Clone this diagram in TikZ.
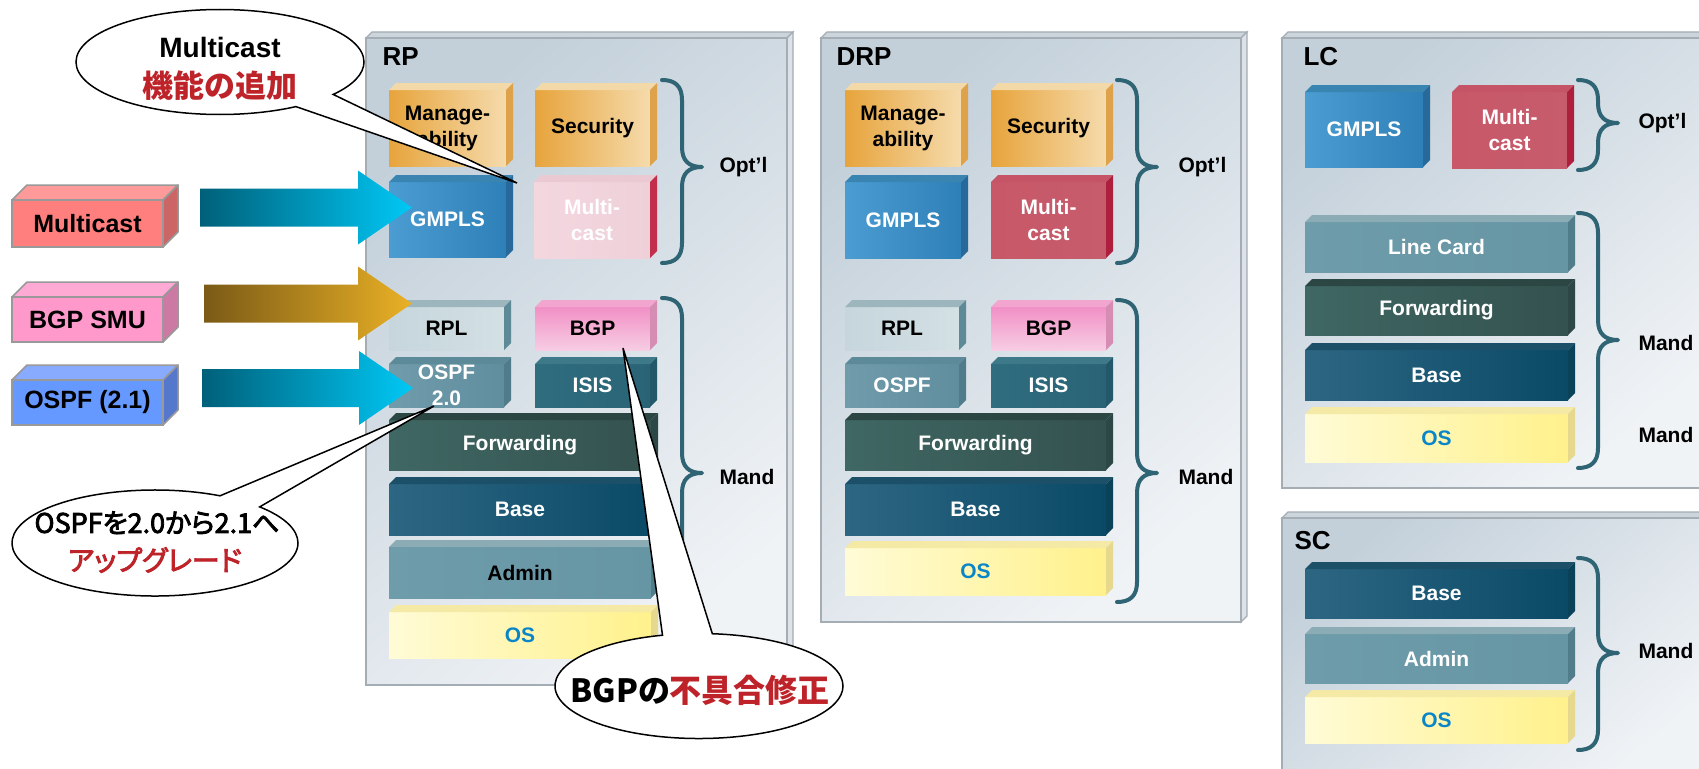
\documentclass[tikz,border=0pt]{standalone}
\usepackage{fontspec}
\setmainfont{Liberation Sans}
\newfontfamily\jp{Noto Sans CJK JP}[RawFeature=+palt]
\newfontfamily\jpm{Noto Sans CJK JP}[RawFeature=+palt, FakeBold=3]
\usetikzlibrary{shapes.callouts,calc}
% block colours
\definecolor{korgL}{HTML}{E7A43C}\definecolor{korgR}{HTML}{F5DBAC}\definecolor{korg-top}{HTML}{F3D9A8}\definecolor{korg-side}{HTML}{DDA24A}
\definecolor{kblueL}{HTML}{4B9CD1}\definecolor{kblueR}{HTML}{2E80B8}\definecolor{kblue-top}{HTML}{3A84B2}\definecolor{kblue-side}{HTML}{27699A}
\definecolor{kredL}{HTML}{C85868}\definecolor{kredR}{HTML}{C65C6C}\definecolor{kred-top}{HTML}{C45466}\definecolor{kred-side}{HTML}{AE1F3D}
\definecolor{kpaleL}{HTML}{F3D7DF}\definecolor{kpaleR}{HTML}{EFD0D9}\definecolor{kpale-top}{HTML}{EBC9D2}\definecolor{kpale-side}{HTML}{C22F4D}
\definecolor{krplL}{HTML}{C6D6DC}\definecolor{krplR}{HTML}{D3E0E4}\definecolor{krpl-top}{HTML}{9DB5BD}\definecolor{krpl-side}{HTML}{5E8A97}
\definecolor{kpinkL}{HTML}{F190C6}\definecolor{kpinkR}{HTML}{F7CDE3}\definecolor{kpink-top}{HTML}{F2A6CF}\definecolor{kpink-side}{HTML}{D58DB4}
\definecolor{kospfL}{HTML}{6F9BAB}\definecolor{kospfR}{HTML}{618E9E}\definecolor{kospf-top}{HTML}{5D8A99}\definecolor{kospf-side}{HTML}{4F7B8A}
\definecolor{kisisL}{HTML}{2F6D7F}\definecolor{kisisR}{HTML}{2A6376}\definecolor{kisis-top}{HTML}{3E7989}\definecolor{kisis-side}{HTML}{225869}
\definecolor{kfwdL}{HTML}{3F6763}\definecolor{kfwdR}{HTML}{34524F}\definecolor{kfwd-top}{HTML}{2C4644}\definecolor{kfwd-side}{HTML}{2C4745}
\definecolor{kbaseL}{HTML}{2D6682}\definecolor{kbaseR}{HTML}{0A4A67}\definecolor{kbase-top}{HTML}{1C4F68}\definecolor{kbase-side}{HTML}{0A4259}
\definecolor{kadmL}{HTML}{6E9CAA}\definecolor{kadmR}{HTML}{6695A4}\definecolor{kadm-top}{HTML}{8BABB5}\definecolor{kadm-side}{HTML}{517D8B}
\definecolor{kosL}{HTML}{FFFBD6}\definecolor{kosR}{HTML}{FFF18C}\definecolor{kos-top}{HTML}{F5E9A6}\definecolor{kos-side}{HTML}{E6D98E}
\definecolor{osblue}{HTML}{0A86C8}
% left boxes
\definecolor{lmc}{HTML}{FF7F7F}\definecolor{lmc-top}{HTML}{FF9A9A}\definecolor{lmc-side}{HTML}{CC6666}
\definecolor{lbgp}{HTML}{FF99CC}\definecolor{lbgp-top}{HTML}{FFAAD5}\definecolor{lbgp-side}{HTML}{CC7AA3}
\definecolor{lospf}{HTML}{6699FF}\definecolor{lospf-top}{HTML}{88AAFF}\definecolor{lospf-side}{HTML}{5577CC}
\definecolor{lboxborder}{HTML}{999999}
% panels etc.
\definecolor{pnlA}{HTML}{C3D0DA}\definecolor{pnlB}{HTML}{F0F3F6}
\definecolor{pnltop}{HTML}{CDD5DC}\definecolor{pnlside}{HTML}{DCE2E7}\definecolor{pnlborder}{HTML}{A4ACB4}
\definecolor{brc}{HTML}{2F6474}
\definecolor{jpred}{HTML}{BE2329}
\definecolor{cyA}{HTML}{00607A}\definecolor{cyB}{HTML}{00C8F5}
\definecolor{gdA}{HTML}{7A5A16}\definecolor{gdB}{HTML}{EAB126}

\tikzset{
  blk/.style={inner sep=0pt, outer sep=0pt, align=center, text=white,
    font=\fontsize{21}{26}\selectfont\bfseries},
  korg/.style={left color=korgL, right color=korgR, text=black},
  kblue/.style={left color=kblueL, right color=kblueR},
  kred/.style={left color=kredL, right color=kredR},
  kpale/.style={left color=kpaleL, right color=kpaleR},
  krpl/.style={left color=krplL, right color=krplR, text=black},
  kpink/.style={top color=kpinkL, bottom color=kpinkR, text=black},
  kospf/.style={left color=kospfL, right color=kospfR},
  kisis/.style={left color=kisisL, right color=kisisR},
  kfwd/.style={left color=kfwdL, right color=kfwdR},
  kbase/.style={left color=kbaseL, right color=kbaseR},
  kadm/.style={left color=kadmL, right color=kadmR},
  kos/.style={left color=kosL, right color=kosR, text=osblue},
  lbox/.style={draw=lboxborder, line width=1.5pt, inner sep=0pt, outer sep=0pt,
    font=\fontsize{25}{28}\selectfont\bfseries, text=black},
  pnl/.style={draw=pnlborder, line width=1.2pt, inner sep=0pt, outer sep=0pt,
    top color=pnlA, bottom color=pnlB, shading angle=40},
  ttl/.style={anchor=west, font=\fontsize{26}{28}\selectfont\bfseries},
  side/.style={anchor=west, font=\fontsize{21}{24}\selectfont\bfseries},
  brace/.style={draw=brc, line width=4pt, line cap=round, line join=round},
  bubble/.style={ellipse callout, draw=black, line width=1.5pt, fill=white,
    inner sep=0pt, minimum width=288pt, minimum height=105pt, callout pointer arc=20},
}

% 3D block: name, kind, x0, y0, x1, y1, text
\newcommand\blk[7]{%
  \pgfmathsetmacro\bw{#5-#3-7}\pgfmathsetmacro\bh{#6-#4-7}%
  \pgfmathsetmacro\bx{(#3+#5-7)/2}\pgfmathsetmacro\by{(#4+7+#6)/2}%
  \node[blk, #2, minimum width=\bw pt, minimum height=\bh pt] (#1) at (\bx,\by) {#7};
  \fill[#2-top] (#1.north west) -- ++(7,-7) -- ++(\bw,0) -- (#1.north east) -- cycle;
  \fill[#2-side] (#1.north east) -- ++(7,-7) -- ++(0,\bh) -- (#1.south east) -- cycle;
}
% left 3D box
\newcommand\lbx[7]{%
  \pgfmathsetmacro\bw{#5-#3-15}\pgfmathsetmacro\bh{#6-#4-15}%
  \pgfmathsetmacro\bx{(#3+#5-15)/2}\pgfmathsetmacro\by{(#4+15+#6)/2}%
  \filldraw[fill=#2-top, draw=lboxborder, line width=1.5pt, line join=round] (#3,#4+15) -- (#3+15,#4) -- (#5,#4) -- (#5-15,#4+15) -- cycle;
  \filldraw[fill=#2-side, draw=lboxborder, line width=1.5pt, line join=round] (#5-15,#4+15) -- (#5,#4) -- (#5,#6-15) -- (#5-15,#6) -- cycle;
  \node[lbox, fill=#2, minimum width=\bw pt, minimum height=\bh pt] (#1) at (\bx,\by) {#7};
}
% panel
\newcommand\pnl[5]{%
  \pgfmathsetmacro\bw{#4-#2-6}\pgfmathsetmacro\bh{#5-#3-6}%
  \pgfmathsetmacro\bx{(#2+#4-6)/2}\pgfmathsetmacro\by{(#3+6+#5)/2}%
  \filldraw[fill=pnltop, draw=pnlborder, line width=1.2pt] (#2,#3+6) -- (#2+6,#3) -- (#4,#3) -- (#4-6,#3+6) -- cycle;
  \filldraw[fill=pnlside, draw=pnlborder, line width=1.2pt] (#4-6,#3+6) -- (#4,#3) -- (#4,#5-6) -- (#4-6,#5) -- cycle;
  \node[pnl, minimum width=\bw pt, minimum height=\bh pt] (#1) at (\bx,\by) {};
}
% brace: x0, ytop, ytip, ybot
\newcommand\brc[4]{%
  \draw[brace] (#1,#2) .. controls (#1+13,#2) and (#1+20,#2+6) .. (#1+20,#2+20)
    -- (#1+20,#3-20) .. controls (#1+20,#3-6) and (#1+27,#3) .. (#1+40,#3)
    .. controls (#1+27,#3) and (#1+20,#3+6) .. (#1+20,#3+20)
    -- (#1+20,#4-20) .. controls (#1+20,#4-6) and (#1+13,#4) .. (#1,#4);
}
% fat shaded arrow between two named coordinates
\newcommand\fatarrow[4]{%
  \shade[left color=#3, right color=#4] let \p1=(#1), \p2=(#2) in
    (\x1,\y1+19pt) -- (\x2-54pt,\y1+19pt) -- (\x2-54pt,\y1+37pt) -- (\x2,\y1)
    -- (\x2-54pt,\y1-37pt) -- (\x2-54pt,\y1-19pt) -- (\x1,\y1-19pt) -- cycle;
}

\begin{document}
\begin{tikzpicture}[x=1pt, y=-1pt]
\useasboundingbox (0,0) rectangle (1699,768);
\clip (0,0) rectangle (1699,768);
\fill[white] (0,0) rectangle (1699,768);

% ---------- panels ----------
\pnl{rp}{366}{32}{793}{685}
\pnl{drp}{821}{32}{1247}{622}
\pnl{lc}{1282}{32}{1712}{488}
\pnl{sc}{1282}{512}{1712}{790}
\node[ttl] (rpT) at (379,57) {RP};
\node[ttl] (drpT) at (833,57) {DRP};
\node[ttl] (lcT) at (1300,57) {LC};
\node[ttl] (scT) at (1291,541) {SC};

% ---------- RP ----------
\blk{rpMan}{korg}{389}{83}{513}{166}{Manage-\\ability}
\blk{rpSec}{korg}{535}{83}{657}{166}{Security}
\blk{rpGm}{kblue}{389}{175}{513}{257}{GMPLS}
\blk{rpMc}{kpale}{534}{175}{657}{258}{Multi-\\cast}
\blk{rpRpl}{krpl}{389}{300}{511}{350}{RPL}
\blk{rpBgp}{kpink}{535}{300}{657}{350}{BGP}
\blk{rpOspf}{kospf}{389}{357}{511}{407}{OSPF\\2.0}
\blk{rpIsis}{kisis}{535}{357}{657}{407}{ISIS}
\blk{rpFwd}{kfwd}{389}{413}{658}{470}{Forwarding}
\blk{rpBase}{kbase}{389}{477}{658}{535}{Base}
\blk{rpAdm}{kadm}{389}{540}{658}{598}{\color{black}Admin}
\blk{rpOs}{kos}{389}{605}{658}{658}{OS}
\brc{662}{80}{167}{263}
\brc{662}{298}{473}{650}
\node[side] (rpOpt) at (716,167) {Opt’l};
\node[side] (rpMand) at (716,477) {Mand};

% ---------- DRP ----------
\blk{drpMan}{korg}{845}{83}{968}{166}{Manage-\\ability}
\blk{drpSec}{korg}{991}{83}{1113}{166}{Security}
\blk{drpGm}{kblue}{845}{175}{968}{258}{GMPLS}
\blk{drpMc}{kred}{991}{175}{1113}{258}{Multi-\\cast}
\blk{drpRpl}{krpl}{845}{300}{966}{350}{RPL}
\blk{drpBgp}{kpink}{991}{300}{1113}{350}{BGP}
\blk{drpOspf}{kospf}{845}{357}{966}{407}{OSPF}
\blk{drpIsis}{kisis}{991}{357}{1113}{407}{ISIS}
\blk{drpFwd}{kfwd}{845}{413}{1113}{470}{Forwarding}
\blk{drpBase}{kbase}{845}{477}{1113}{535}{Base}
\blk{drpOs}{kos}{845}{541}{1113}{595}{OS}
\brc{1117}{80}{167}{263}
\brc{1117}{300}{473}{602}
\node[side] (drpOpt) at (1175,167) {Opt’l};
\node[side] (drpMand) at (1175,477) {Mand};

% ---------- LC ----------
\blk{lcGm}{kblue}{1305}{85}{1430}{167}{GMPLS}
\blk{lcMc}{kred}{1452}{85}{1574}{168}{Multi-\\cast}
\blk{lcLine}{kadm}{1305}{215}{1575}{272}{Line Card}
\blk{lcFwd}{kfwd}{1305}{279}{1575}{335}{Forwarding}
\blk{lcBase}{kbase}{1305}{343}{1575}{400}{Base}
\blk{lcOs}{kos}{1305}{407}{1575}{462}{OS}
\brc{1578}{80}{123}{170}
\brc{1578}{213}{340}{468}
\node[side] (lcOpt) at (1635,123) {Opt’l};
\node[side] (lcMand) at (1635,343) {Mand};
\node[side] (lcMand2) at (1635,435) {Mand};

% ---------- SC ----------
\blk{scBase}{kbase}{1305}{562}{1575}{618}{Base}
\blk{scAdm}{kadm}{1305}{627}{1575}{683}{Admin}
\blk{scOs}{kos}{1305}{690}{1575}{743}{OS}
\brc{1578}{558}{653}{750}
\node[side] (scMand) at (1635,651) {Mand};

% ---------- left boxes ----------
\lbx{inMc}{lmc}{12}{185}{178}{247}{Multicast}
\lbx{inBgp}{lbgp}{12}{282}{178}{342}{BGP SMU}
\lbx{inOspf}{lospf}{12}{365}{178}{425}{OSPF (2.1)}

% ---------- arrows ----------
\coordinate (aMcS) at (200,207.5);
\coordinate (aMcE) at (412,207.5);
\coordinate (aBgpS) at (204,303.5);
\coordinate (aBgpE) at (412,303.5);
\coordinate (aOspfS) at (202,388);
\coordinate (aOspfE) at (413,388);
\fatarrow{aMcS}{aMcE}{cyA}{cyB}
\fatarrow{aBgpS}{aBgpE}{gdA}{gdB}
\fatarrow{aOspfS}{aOspfE}{cyA}{cyB}

% ---------- callouts ----------
\coordinate (tMc) at (517,183);
\coordinate (tOspf) at (434,406);
\coordinate (tBgp) at (623,348);
\node[bubble, callout absolute pointer={(tMc)}] (cMc) at (220,62) {};
\node[font=\fontsize{28}{30}\selectfont\bfseries] (cMcA) at (220,47) {Multicast};
\node[font=\jp\bfseries\fontsize{31}{33}\selectfont, text=jpred] (cMcB) at (220,86) {機能の追加};

\node[bubble, minimum width=286pt, minimum height=106pt, callout absolute pointer={(tOspf)}] (cOspf) at (155,543) {};
\node[font=\jpm\fontsize{27}{29}\selectfont] (cOspfA) at (157,523) {OSPFを2.0から2.1へ};
\node[font=\jpm\fontsize{28}{30}\selectfont, text=jpred] (cOspfB) at (155,560) {アップグレード};

\node[bubble, callout absolute pointer={(tBgp)}] (cBgp) at (699,686) {};
\node[font=\jp\bfseries\fontsize{32}{34}\selectfont] (cBgpA) at (700,690) {BGPの\textcolor{jpred}{不具合修正}};
\end{tikzpicture}
\end{document}
